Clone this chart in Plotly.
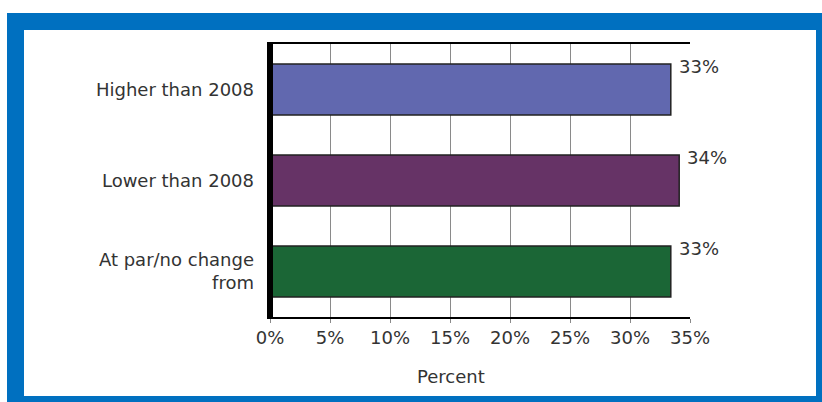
import plotly.graph_objects as go

categories = ["Higher than 2008", "Lower than 2008", "At par/no change<br>from"]
values = [33.4, 34.1, 33.4]
bar_colors = ["#6168AF", "#663366", "#1B6636"]
x_ticks = [0, 5, 10, 15, 20, 25, 30, 35]
x_tick_labels = [f"{t}%" for t in x_ticks]
x_title = "Percent"

W, H = 822, 402
L, R, T, B = 270, 132, 44, 85
pw, ph = W - L - R, H - T - B


def px_x(p):
    return (p - L) / pw


def px_y(p):
    return (H - B - p) / ph


FONT = "DejaVu Sans, Verdana, sans-serif"
TXT = "#333333"

fig = go.Figure()
fig.add_trace(go.Bar(
    x=values, y=categories, orientation="h",
    marker=dict(color=bar_colors, line=dict(color="#222222", width=1.5)),
    width=0.56, showlegend=False, hoverinfo="skip",
))

annotations = []
for c, v in zip(categories, values):
    annotations.append(dict(
        x=v, y=c, xref="x", yref="y", text=f"{round(v)}%", showarrow=False,
        xanchor="left", yanchor="middle", xshift=6, yshift=23,
        bgcolor="white", borderpad=1,
        font=dict(family=FONT, size=18, color=TXT),
    ))
annotations.append(dict(
    x=px_x(451), y=px_y(376), xref="paper", yref="paper", text=x_title,
    showarrow=False, xanchor="center", yanchor="middle",
    font=dict(family=FONT, size=18, color=TXT),
))

shapes = [
    dict(type="rect", xref="paper", yref="paper", layer="below",
         x0=px_x(7), x1=px_x(840), y0=px_y(420), y1=px_y(13),
         fillcolor="#0070C0", line=dict(width=0)),
    dict(type="rect", xref="paper", yref="paper", layer="below",
         x0=px_x(24), x1=px_x(816), y0=px_y(396), y1=px_y(30),
         fillcolor="white", line=dict(width=0)),
    dict(type="line", xref="paper", yref="paper", layer="above",
         x0=0, x1=0, y0=px_y(42), y1=px_y(319),
         line=dict(color="black", width=6)),
]

fig.update_layout(
    width=W, height=H,
    margin=dict(l=L, r=R, t=T, b=B, pad=0),
    paper_bgcolor="white", plot_bgcolor="rgba(0,0,0,0)",
    font=dict(family=FONT, size=18, color=TXT),
    annotations=annotations, shapes=shapes,
    bargap=0.44,
)
fig.update_xaxes(
    range=[0, 35], tickvals=x_ticks, ticktext=x_tick_labels,
    showgrid=True, gridcolor="#8a8a8a", gridwidth=1,
    showline=True, mirror=True, linecolor="black", linewidth=1.5,
    ticks="outside", ticklen=4, tickcolor="#8a8a8a",
    zeroline=False, fixedrange=True,
    tickfont=dict(family=FONT, size=18, color=TXT),
)
fig.update_yaxes(
    categoryorder="array", categoryarray=categories, autorange="reversed",
    showgrid=False, showline=False, zeroline=False, ticks="",
    ticklabelstandoff=15, fixedrange=True,
    tickfont=dict(family=FONT, size=18, color=TXT),
)

fig.write_html(
    "out.html",
    config={"displayModeBar": False},
    post_script="document.body.style.margin='0';document.body.style.overflow='hidden';",
)
